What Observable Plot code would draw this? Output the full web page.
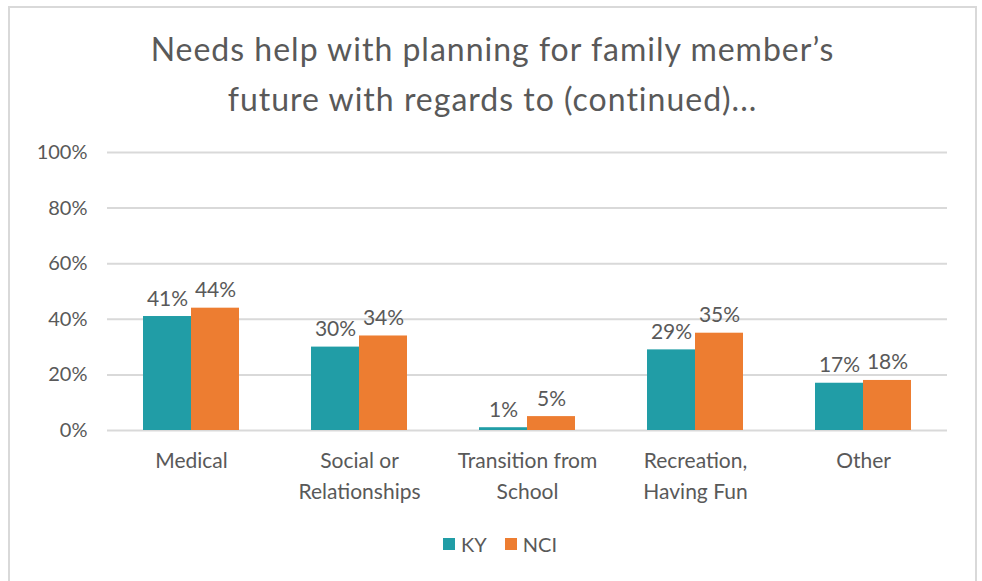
<!DOCTYPE html>
<html>
<head>
<meta charset="utf-8">
<script src="https://cdn.jsdelivr.net/npm/d3@7"></script>
<script src="https://cdn.jsdelivr.net/npm/@observablehq/plot@0.6"></script>
<style>
  body { margin: 0; background: #fff; font-family: Lato, "Open Sans", sans-serif; }
  #frame { position: absolute; left: 8px; top: 6px; width: 969px; height: 600px; border: 2px solid #d9d9d9; box-sizing: border-box; }
  #title { position: absolute; left: 8px; top: 24px; width: 969px; text-align: center; font-size: 32px; letter-spacing: 1px; line-height: 50px; color: #595959; }
  #chart { position: absolute; left: 0; top: 130px; }
  #legend { position: absolute; left: 0; top: 532px; width: 1000px; display: flex; justify-content: center; gap: 18px; font-size: 20px; color: #595959; }
  .item { display: flex; align-items: center; gap: 6px; }
  .sw { width: 12px; height: 12px; display: inline-block; }
</style>
</head>
<body>
<div id="frame"></div>
<div id="title">Needs help with planning for family member’s<br>future with regards to (continued)...</div>
<div id="chart"></div>
<div id="legend"></div>
<script>
const categories = ["Medical", "Social or Relationships", "Transition from School", "Recreation, Having Fun", "Other"];
const tickLabels = ["Medical", "Social or\nRelationships", "Transition from\nSchool", "Recreation,\nHaving Fun", "Other"];
const seriesNames = ["KY", "NCI"];
const kyValues = [41, 30, 1, 29, 17];
const nciValues = [44, 34, 5, 35, 18];
const yTicks = [0, 20, 40, 60, 80, 100];
const colors = ["#219DA6", "#ED7D31"];

const data = [];
categories.forEach((c, i) => {
  data.push({category: c, series: "KY", value: kyValues[i]});
  data.push({category: c, series: "NCI", value: nciValues[i]});
});

const chart = Plot.plot({
  width: 982,
  height: 380,
  marginLeft: 106,
  marginRight: 35,
  marginTop: 22,
  marginBottom: 80,
  style: {fontFamily: "Lato, 'Open Sans', sans-serif", color: "#595959", background: "transparent"},
  fx: {domain: categories, padding: 0, label: null, axis: null},
  x: {domain: seriesNames, paddingInner: 0, paddingOuter: 0.746, axis: null},
  y: {domain: [0, 100], ticks: yTicks, label: null, axis: null},
  color: {domain: seriesNames, range: colors},
  marks: [
    Plot.ruleY(yTicks, {stroke: "#d9d9d9", strokeWidth: 2}),
    Plot.axisY({ticks: yTicks, tickFormat: d => d + "%", tickSize: 0, tickPadding: 20, fontSize: 20, label: null, fill: "#595959"}),
    Plot.axisFx({anchor: "bottom", tickFormat: d => tickLabels[categories.indexOf(d)], tickSize: 0, tickPadding: 16, fontSize: 21, lineHeight: 1.45, label: null, fill: "#595959"}),
    Plot.barY(data, {fx: "category", x: "series", y: "value", fill: "series"}),
    Plot.text(data, {fx: "category", x: "series", y: "value", text: d => d.value + "%", lineAnchor: "bottom", dy: -11, fontSize: 21, fill: "#595959"})
  ]
});
document.getElementById("chart").appendChild(chart);

const legend = document.getElementById("legend");
seriesNames.forEach((s, i) => {
  const item = document.createElement("div");
  item.className = "item";
  const sw = document.createElement("span");
  sw.className = "sw";
  sw.style.background = colors[i];
  const label = document.createElement("span");
  label.textContent = s;
  item.appendChild(sw);
  item.appendChild(label);
  legend.appendChild(item);
});
</script>
</body>
</html>
